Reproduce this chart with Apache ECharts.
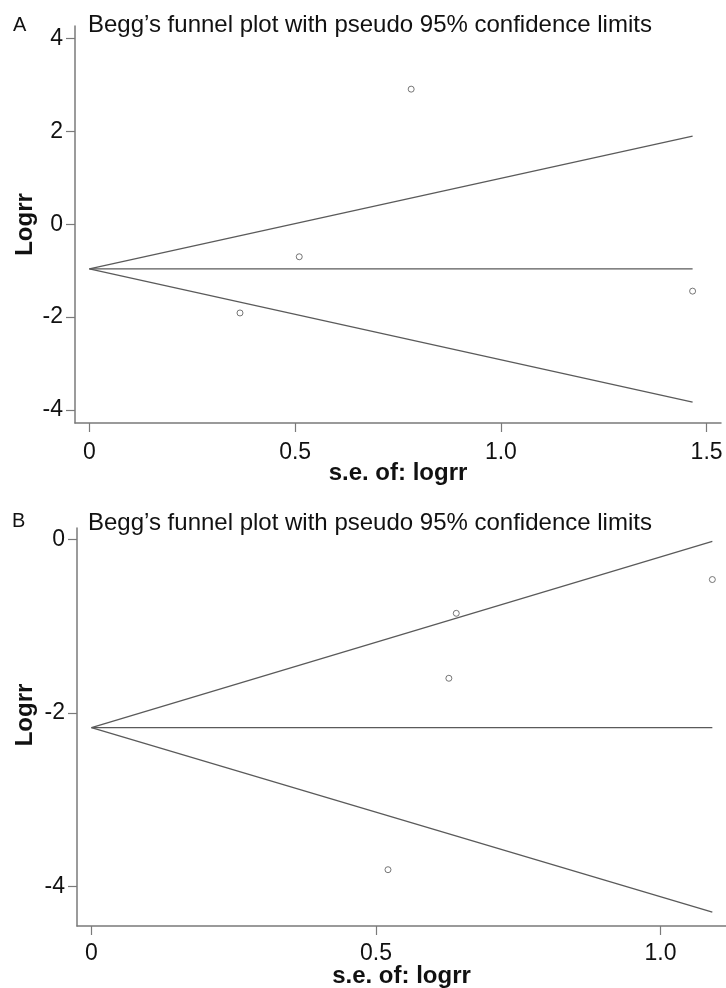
<!DOCTYPE html>
<html>
<head>
<meta charset="utf-8">
<script src="https://cdn.jsdelivr.net/npm/echarts@6/dist/echarts.min.js"></script>
<style>
html,body{margin:0;padding:0;background:#fff;}
#chart{width:726px;height:988px;}
</style>
</head>
<body>
<div id="chart"></div>
<script>
// Panel A data
const seA = [0.366, 0.510, 0.782, 1.466];
const logrrA = [-1.91, -0.70, 2.91, -1.44];
const funnelSeA = [0, 1.466];
const upperA = [-0.96, 1.90];
const lowerA = [-0.96, -3.83];
const pooledA = [-0.96, -0.96];
const xTicksA = [0, 0.5, 1, 1.5];
const yTicksA = [-4, -2, 0, 2, 4];

// Panel B data
const seB = [0.521, 0.628, 0.641, 1.091];
const logrrB = [-3.81, -1.60, -0.85, -0.46];
const funnelSeB = [0, 1.091];
const upperB = [-2.17, -0.02];
const lowerB = [-2.17, -4.30];
const pooledB = [-2.17, -2.17];
const xTicksB = [0, 0.5, 1];
const yTicksB = [-4, -2, 0];

const titleText = 'Begg\u2019s funnel plot with pseudo 95% confidence limits';
const xName = 's.e. of: logrr';
const yName = 'Logrr';

const FONT = '"Liberation Sans", Arial, Helvetica, sans-serif';
const AXIS_COLOR = '#7a7a7a';
const LINE_COLOR = '#5a5a5a';

function zip(a, b) { return a.map((v, i) => [v, b[i]]); }
function xFmt(v) { return v === 0 ? '0' : v.toFixed(1); }
function yFmt(v) { return String(v); }

function xAxisDef(gi, min, max, ticks, nameGap, margin) {
  return {
    type: 'value', gridIndex: gi, min: min, max: max,
    name: xName, nameLocation: 'middle', nameGap: nameGap, nameMoveOverlap: false,
    nameTextStyle: { fontFamily: FONT, fontWeight: 'bold', fontSize: 24, color: '#111' },
    axisLine: { show: true, onZero: false, lineStyle: { color: AXIS_COLOR, width: 1.5 } },
    axisTick: { show: true, length: 9, customValues: ticks, lineStyle: { color: AXIS_COLOR, width: 1.2 } },
    axisLabel: { customValues: ticks, formatter: xFmt, margin: margin, fontFamily: FONT, fontSize: 23, color: '#111' },
    splitLine: { show: false }
  };
}
function yAxisDef(gi, min, max, ticks, nameGap, namePad) {
  return {
    type: 'value', gridIndex: gi, min: min, max: max,
    name: yName, nameLocation: 'middle', nameGap: nameGap, nameMoveOverlap: false,
    nameTextStyle: { fontFamily: FONT, fontWeight: 'bold', fontSize: 24, color: '#111', padding: namePad },
    axisLine: { show: true, onZero: false, lineStyle: { color: AXIS_COLOR, width: 1.5 } },
    axisTick: { show: true, length: 9, customValues: ticks, lineStyle: { color: AXIS_COLOR, width: 1.2 } },
    axisLabel: { customValues: ticks, formatter: yFmt, margin: 12, fontFamily: FONT, fontSize: 23, color: '#111' },
    splitLine: { show: false }
  };
}
function lineSeries(gi, xs, ys) {
  return {
    type: 'line', xAxisIndex: gi, yAxisIndex: gi, data: zip(xs, ys),
    symbol: 'none', silent: true, animation: false,
    lineStyle: { color: LINE_COLOR, width: 1.3 }
  };
}
function scatterSeries(gi, xs, ys) {
  return {
    type: 'scatter', xAxisIndex: gi, yAxisIndex: gi, data: zip(xs, ys),
    symbol: 'circle', symbolSize: 6, animation: false,
    itemStyle: { color: '#fff', borderColor: '#555', borderWidth: 1 }
  };
}

const chart = echarts.init(document.getElementById('chart'), null, { renderer: 'canvas' });
chart.setOption({
  backgroundColor: '#fff',
  animation: false,
  grid: [
    { left: 75, top: 26, width: 646, height: 397, containLabel: false, outerBoundsMode: 'none' },
    { left: 77, top: 528, width: 649, height: 398, containLabel: false, outerBoundsMode: 'none' }
  ],
  xAxis: [
    xAxisDef(0, -0.035, 1.535, xTicksA, 38, 18),
    xAxisDef(1, -0.0255, 1.115, xTicksB, 38, 16)
  ],
  yAxis: [
    yAxisDef(0, -4.28, 4.27, yTicksA, 38, [0, 0, 0, 0]),
    yAxisDef(1, -4.46, 0.135, yTicksB, 40, [0, 0, 0, 24])
  ],
  graphic: [
    { type: 'text', x: 13, y: 25, style: { text: 'A', font: '20px ' + FONT, fill: '#111', verticalAlign: 'middle', align: 'left' } },
    { type: 'text', x: 88, y: 25, style: { text: titleText, font: '24px ' + FONT, fill: '#111', verticalAlign: 'middle', align: 'left' } },
    { type: 'text', x: 12, y: 521, style: { text: 'B', font: '20px ' + FONT, fill: '#111', verticalAlign: 'middle', align: 'left' } },
    { type: 'text', x: 88, y: 523, style: { text: titleText, font: '24px ' + FONT, fill: '#111', verticalAlign: 'middle', align: 'left' } }
  ],
  series: [
    lineSeries(0, funnelSeA, upperA),
    lineSeries(0, funnelSeA, lowerA),
    lineSeries(0, funnelSeA, pooledA),
    scatterSeries(0, seA, logrrA),
    lineSeries(1, funnelSeB, upperB),
    lineSeries(1, funnelSeB, lowerB),
    lineSeries(1, funnelSeB, pooledB),
    scatterSeries(1, seB, logrrB)
  ]
});
</script>
</body>
</html>
